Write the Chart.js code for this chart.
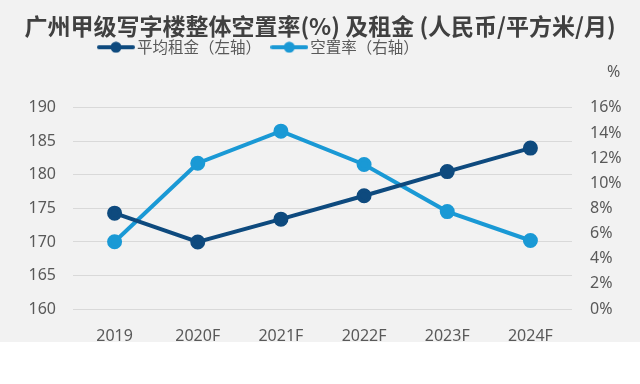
<!DOCTYPE html>
<html>
<head>
<meta charset="utf-8">
<script src="https://cdn.jsdelivr.net/npm/chart.js@4"></script>
<style>
  body { margin: 0; background: #fff; }
  .chart-box { width: 640px; height: 342px; background: #f2f2f2; position: relative; }
</style>
</head>
<body>
<div class="chart-box"><canvas id="officeChart"></canvas></div>
<script>
const years = ['2019', '2020F', '2021F', '2022F', '2023F', '2024F'];
const avgRent = [174.3, 170.0, 173.4, 176.9, 180.5, 184.0];
const vacancyRate = [5.35, 11.6, 14.15, 11.5, 7.75, 5.45];
const rentTicks = [160, 190, 5];
const rateTicks = [0, 16, 2];

const darkBlue = '#0e4a7e';
const lightBlue = '#1a99d5';
const cjk = '"Noto Sans CJK SC", "Noto Sans", sans-serif';

// legend marker: short line with a dot on it
function marker(color) {
  const c = document.createElement('canvas');
  c.width = 38; c.height = 12;
  const g = c.getContext('2d');
  g.strokeStyle = color;
  g.lineWidth = 4;
  g.lineCap = 'round';
  g.beginPath(); g.moveTo(2, 6); g.lineTo(36, 6); g.stroke();
  g.fillStyle = color;
  g.beginPath(); g.arc(19, 6, 5.5, 0, Math.PI * 2); g.fill();
  return c;
}

// legend box: fixed height, moved to where the original sits
const legendSpace = {
  id: 'legendSpace',
  beforeInit(chart) {
    const fit = chart.legend.fit;
    chart.legend.fit = function () {
      fit.bind(chart.legend)();
      this.height = 68.3;
    };
  },
  afterLayout(chart) {
    const lg = chart.legend;
    const w = lg.right - lg.left;
    lg.left = 87.75;
    lg.right = lg.left + w;
    lg.top = 24.5;
  }
};

const percentLabel = {
  id: 'percentLabel',
  afterDraw(chart) {
    const s = chart.scales.y1;
    const ctx = chart.ctx;
    ctx.save();
    ctx.font = '16px "Noto Sans", sans-serif';
    ctx.fillStyle = '#595959';
    ctx.textBaseline = 'middle';
    ctx.fillText('%', s.left + 35, chart.chartArea.top - 35);
    ctx.restore();
  }
};

new Chart(document.getElementById('officeChart'), {
  type: 'line',
  data: {
    labels: years,
    datasets: [{
      label: '平均租金（左轴）',
      data: avgRent,
      yAxisID: 'y',
      borderColor: darkBlue,
      backgroundColor: darkBlue,
      borderWidth: 4,
      pointRadius: 5.5,
      pointHoverRadius: 5.5,
      tension: 0
    }, {
      label: '空置率（右轴）',
      data: vacancyRate,
      yAxisID: 'y1',
      borderColor: lightBlue,
      backgroundColor: lightBlue,
      borderWidth: 4,
      pointRadius: 5.5,
      pointHoverRadius: 5.5,
      tension: 0
    }]
  },
  options: {
    responsive: true,
    maintainAspectRatio: false,
    animation: false,
    layout: { padding: 0 },
    plugins: {
      title: {
        display: true,
        text: '广州甲级写字楼整体空置率(%) 及租金 (人民币/平方米/月)',
        color: '#404040',
        font: { family: cjk, size: 23, weight: 'bold' },
        padding: { top: 12, bottom: 0 }
      },
      legend: {
        display: true,
        align: 'start',
        labels: {
          color: '#595959',
          font: { family: cjk, size: 15.5 },
          usePointStyle: true,
          pointStyleWidth: 26.5,
          padding: 15,
          generateLabels(chart) {
            const items = Chart.defaults.plugins.legend.labels.generateLabels(chart);
            items.forEach(it => { it.pointStyle = marker(it.strokeStyle); });
            return items;
          }
        }
      },
      tooltip: { enabled: false }
    },
    scales: {
      x: {
        offset: true,
        grid: { display: false },
        border: { display: false },
        ticks: { color: '#595959', font: { family: '"Noto Sans", sans-serif', size: 16 }, padding: 10 },
        afterFit(s) { s.height = 33; }
      },
      y: {
        position: 'left',
        min: rentTicks[0],
        max: rentTicks[1],
        ticks: { stepSize: rentTicks[2], color: '#595959', font: { family: '"Noto Sans", sans-serif', size: 16 }, padding: 17 },
        grid: { color: '#d9d9d9', drawTicks: false },
        border: { display: false },
        afterFit(s) { s.width = 73; }
      },
      y1: {
        position: 'right',
        min: rateTicks[0],
        max: rateTicks[1],
        ticks: { stepSize: rateTicks[2], color: '#595959', font: { family: '"Noto Sans", sans-serif', size: 16 }, padding: 18, callback: v => v + '%' },
        grid: { display: false, drawTicks: false },
        border: { display: false },
        afterFit(s) { s.width = 68; }
      }
    }
  },
  plugins: [legendSpace, percentLabel]
});
</script>
</body>
</html>
